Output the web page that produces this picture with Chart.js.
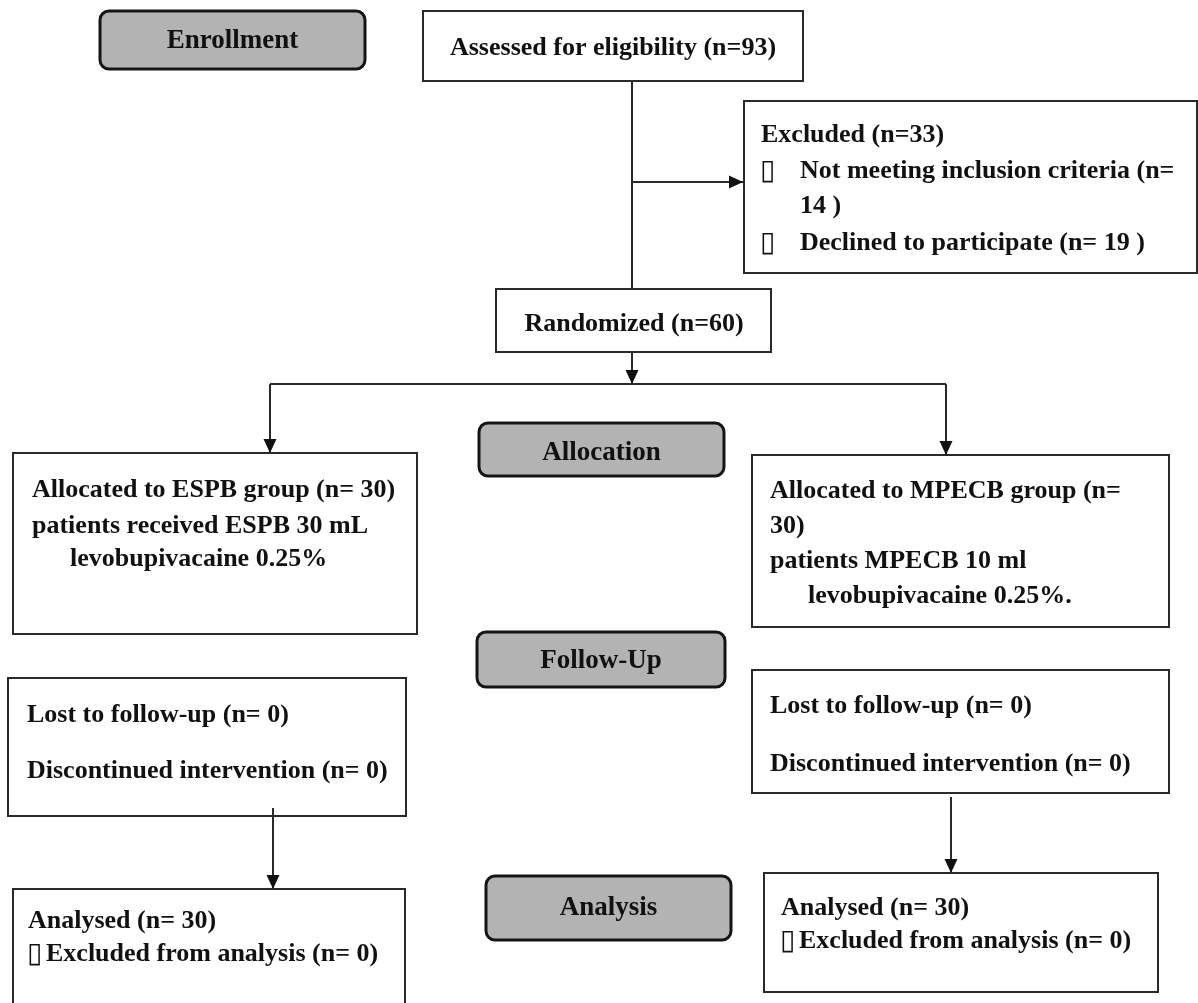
<!DOCTYPE html>
<html>
<head>
<meta charset="utf-8">
<title>CONSORT flow</title>
<style>
  html, body { margin: 0; padding: 0; background: #fff; }
  #wrap { width: 1198px; height: 1003px; }
</style>
<script src="https://cdn.jsdelivr.net/npm/chart.js@4.4.1/dist/chart.umd.min.js"></script>
</head>
<body>
<div id="wrap"><canvas id="flow" width="1198" height="1003"></canvas></div>
<script>
// --- texts of the diagram ---
var stageLabels = ["Enrollment", "Allocation", "Follow-Up", "Analysis"];
var assessedText = ["Assessed for eligibility (n=93)"];
var randomizedText = ["Randomized (n=60)"];
var excludedText = ["Excluded (n=33)", "Not meeting inclusion criteria (n=", "14 )", "Declined to participate (n= 19 )"];
var excludedBullets = [false, true, false, true];
var allocLeftText = ["Allocated to ESPB group (n= 30)", "patients received ESPB 30 mL", "levobupivacaine 0.25%"];
var allocRightText = ["Allocated to MPECB group (n=", "30)", "patients MPECB 10 ml", "levobupivacaine 0.25%."];
var followLeftText = ["Lost to follow-up (n= 0)", "Discontinued intervention (n= 0)"];
var followRightText = ["Lost to follow-up (n= 0)", "Discontinued intervention (n= 0)"];
var analysisLeftText = ["Analysed (n= 30)", "Excluded from analysis (n= 0)"];
var analysisRightText = ["Analysed (n= 30)", "Excluded from analysis (n= 0)"];
var analysisBullets = [false, true];

// --- layout (page units = pixels of the 1198 x 1003 picture) ---
var stageBoxes = [
    { x0: 100, y0: 11, x1: 365, y1: 69, cy: 41 },
    { x0: 479, y0: 423, x1: 724, y1: 476, cy: 453 },
    { x0: 477, y0: 632, x1: 725, y1: 687, cy: 661 },
    { x0: 486, y0: 876, x1: 731, y1: 940, cy: 908 }
];

var textBoxes = [
    { x0: 423, y0: 11, x1: 803, y1: 81, lines: assessedText, center: [613], ys: [55] },
    { x0: 496, y0: 289, x1: 771, y1: 352, lines: randomizedText, center: [634], ys: [331] },
    { x0: 744, y0: 101, x1: 1197, y1: 273, lines: excludedText, bullets: excludedBullets,
      lx: 761, ind: [0, 39, 39, 39], ys: [142, 178, 213, 250] },
    { x0: 13, y0: 453, x1: 417, y1: 634, lines: allocLeftText, lx: 32, ind: [0, 0, 38], ys: [497, 533, 566] },
    { x0: 752, y0: 455, x1: 1169, y1: 627, lines: allocRightText, lx: 770, ind: [0, 0, 0, 38], ys: [498, 533, 568, 603] },
    { x0: 8, y0: 678, x1: 406, y1: 816, lines: followLeftText, lx: 27, ind: [0, 0], ys: [722, 778] },
    { x0: 752, y0: 670, x1: 1169, y1: 793, lines: followRightText, lx: 770, ind: [0, 0], ys: [713, 771] },
    { x0: 13, y0: 889, x1: 405, y1: 1010, lines: analysisLeftText, bullets: analysisBullets,
      lx: 28, ind: [0, 18], ys: [928, 961] },
    { x0: 764, y0: 873, x1: 1158, y1: 992, lines: analysisRightText, bullets: analysisBullets,
      lx: 781, ind: [0, 18], ys: [915, 948] }
];

// connectors: [x0, y0, x1, y1, arrow]
var links = [
    [632, 81, 632, 289, false],
    [632, 182, 743, 182, true],
    [632, 352, 632, 384, true],
    [270, 384, 946, 384, false],
    [270, 384, 270, 453, true],
    [946, 384, 946, 455, true],
    [273, 808, 273, 889, true],
    [951, 797, 951, 873, true]
];

var FONT = '"Liberation Serif", "Times New Roman", serif';

function roundRect(ctx, x, y, w, h, r) {
    ctx.beginPath();
    ctx.moveTo(x + r, y);
    ctx.lineTo(x + w - r, y);
    ctx.arcTo(x + w, y, x + w, y + r, r);
    ctx.lineTo(x + w, y + h - r);
    ctx.arcTo(x + w, y + h, x + w - r, y + h, r);
    ctx.lineTo(x + r, y + h);
    ctx.arcTo(x, y + h, x, y + h - r, r);
    ctx.lineTo(x, y + r);
    ctx.arcTo(x, y, x + r, y, r);
    ctx.closePath();
}

var flowPlugin = {
    id: "flow",
    beforeDatasetsDraw: function(chart) {
        var ctx = chart.ctx, sx = chart.scales.x, sy = chart.scales.y;
        ctx.save();
        // plain boxes
        textBoxes.forEach(function(b) {
            var x = sx.getPixelForValue(b.x0), y = sy.getPixelForValue(b.y0);
            var w = sx.getPixelForValue(b.x1) - x, h = sy.getPixelForValue(b.y1) - y;
            ctx.fillStyle = "#fff"; ctx.fillRect(x, y, w, h);
            ctx.strokeStyle = "#2a2a2a"; ctx.lineWidth = 2;
            ctx.strokeRect(x, y, w, h);
        });
        // grey stage boxes
        stageBoxes.forEach(function(b) {
            var x = sx.getPixelForValue(b.x0), y = sy.getPixelForValue(b.y0);
            var w = sx.getPixelForValue(b.x1) - x, h = sy.getPixelForValue(b.y1) - y;
            roundRect(ctx, x, y, w, h, 9);
            ctx.fillStyle = "#b3b3b3"; ctx.fill();
            ctx.strokeStyle = "#151515"; ctx.lineWidth = 3; ctx.stroke();
        });
        ctx.restore();
    },
    afterDatasetsDraw: function(chart) {
        var ctx = chart.ctx, sx = chart.scales.x, sy = chart.scales.y;
        ctx.save();
        // arrow heads
        chart.data.datasets.forEach(function(ds, i) {
            if (!ds.arrow) return;
            var pts = chart.getDatasetMeta(i).data;
            var a = pts[pts.length - 2], b = pts[pts.length - 1];
            var ang = Math.atan2(b.y - a.y, b.x - a.x), L = 14, W = 6.5;
            ctx.beginPath();
            ctx.moveTo(b.x, b.y);
            ctx.lineTo(b.x - L * Math.cos(ang) + W * Math.sin(ang), b.y - L * Math.sin(ang) - W * Math.cos(ang));
            ctx.lineTo(b.x - L * Math.cos(ang) - W * Math.sin(ang), b.y - L * Math.sin(ang) + W * Math.cos(ang));
            ctx.closePath();
            ctx.fillStyle = "#111"; ctx.fill();
        });
        // stage labels
        ctx.fillStyle = "#111";
        ctx.font = "bold 27px " + FONT;
        ctx.textAlign = "center"; ctx.textBaseline = "middle";
        stageBoxes.forEach(function(b, i) {
            ctx.fillText(stageLabels[i], sx.getPixelForValue((b.x0 + b.x1) / 2), sy.getPixelForValue(b.cy));
        });
        // box texts
        ctx.textBaseline = "alphabetic";
        textBoxes.forEach(function(b) {
            b.lines.forEach(function(t, j) {
                var y = sy.getPixelForValue(b.ys[j]);
                if (b.center) {
                    ctx.font = "bold 26px " + FONT;
                    ctx.textAlign = "center";
                    ctx.fillText(t, sx.getPixelForValue(b.center[j]), y);
                    return;
                }
                ctx.textAlign = "left";
                if (b.bullets && b.bullets[j]) {
                    // missing-glyph style bullet of the original document
                    ctx.font = "28px " + FONT;
                    ctx.fillText("\u25AF", sx.getPixelForValue(b.lx - 1), y + 1);
                }
                ctx.font = "bold 26px " + FONT;
                ctx.fillText(t, sx.getPixelForValue(b.lx + b.ind[j]), y);
            });
        });
        ctx.restore();
    }
};

var datasets = links.map(function(l) {
    return {
        data: [{ x: l[0], y: l[1] }, { x: l[2], y: l[3] }],
        showLine: true,
        borderColor: "#2a2a2a",
        borderWidth: 2,
        pointRadius: 0,
        pointHoverRadius: 0,
        fill: false,
        clip: false,
        arrow: l[4]
    };
});

new Chart(document.getElementById("flow"), {
    type: "scatter",
    data: { datasets: datasets },
    options: {
        responsive: false,
        animation: false,
        events: [],
        layout: { padding: 0 },
        scales: {
            x: { type: "linear", min: 0, max: 1198, display: false },
            y: { type: "linear", min: 0, max: 1003, reverse: true, display: false }
        },
        plugins: { legend: { display: false }, tooltip: { enabled: false } }
    },
    plugins: [flowPlugin]
});
</script>
</body>
</html>
